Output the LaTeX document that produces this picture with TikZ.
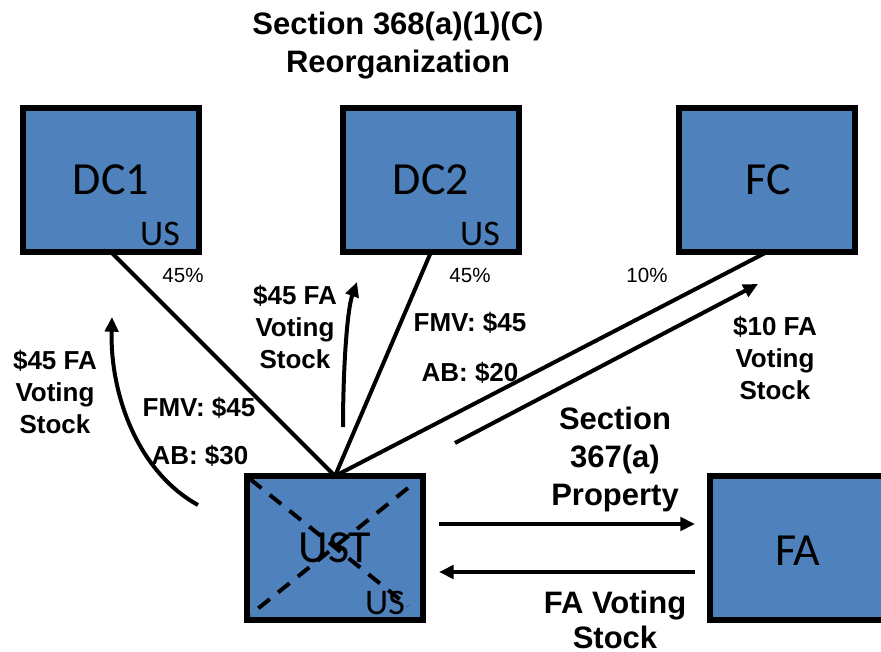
\documentclass[tikz,border=0pt]{standalone}
\usepackage{fontspec}
\setmainfont{Liberation Sans}
\newfontfamily\boxfont{Carlito}
\usetikzlibrary{arrows.meta}
\definecolor{boxblue}{HTML}{4F81BD}
\begin{document}
\begin{tikzpicture}[x=0.75pt,y=-0.75pt,
  corp/.style={draw=black,fill=boxblue,line width=4.5pt,minimum width=132pt,minimum height=108pt,inner sep=0pt,outer sep=0pt},
  corptext/.style={font=\boxfont\fontsize{34.5}{40}\selectfont,inner sep=0pt},
  ustext/.style={font=\boxfont\fontsize{27}{32}\selectfont,inner sep=0pt},
  lbl/.style={font=\bfseries\fontsize{19.5}{24}\selectfont,align=center,inner sep=0pt},
  biglbl/.style={font=\bfseries\fontsize{23.25}{28.5}\selectfont,align=center,inner sep=0pt},
  pct/.style={font=\fontsize{15.4}{18}\selectfont,inner sep=0pt},
  link/.style={line width=3pt},
  flow/.style={line width=3pt,-{Triangle[length=11pt,width=10pt]}},
  cross/.style={line width=3pt,dash pattern=on 11pt off 8pt}]
\useasboundingbox (0,0) rectangle (881,652);
\clip (0,0) rectangle (881,652);

% boxes
\node[corp] (DC1) at (111,180) {};
\node[corp] (DC2) at (431,180) {};
\node[corp] (FC) at (767,180) {};
\node[corp] (UST) at (335,548) {};
\node[corp] (FA) at (798,548) {};

\node[corptext] (tDC1) at (111,180) {DC1};
\node[ustext] (uDC1) at (160,234) {US};
\node[corptext] (tDC2) at (431,180) {DC2};
\node[ustext] (uDC2) at (480,234) {US};
\node[corptext] (tFC) at (768,180) {FC};
\node[corptext] (tUST) at (335,548) {UST};
\node[ustext] (uUST) at (385,603) {US};
\node[corptext] (tFA) at (798,551) {FA};

% crossed out UST
\draw[cross] (250,479) -- (408,606);
\draw[cross] (408,488) -- (250,615);

% ownership lines
\draw[link] (DC1.south) -- (UST.north);
\draw[link] (DC2.south) -- (UST.north);
\draw[link] (FC.south) -- (UST.north);

% free arrow ends
\coordinate (a1s) at (198,505);
\coordinate (a1e) at (112,317);
\coordinate (a2s) at (343,427);
\coordinate (a2e) at (357,282);
\coordinate (a3s) at (455,443);
\coordinate (a3e) at (758,284);
\coordinate (p1s) at (439,524);
\coordinate (p1e) at (695,524);
\coordinate (p2s) at (695,572);
\coordinate (p2e) at (439,572);

\draw[flow] (a1s) .. controls (135,470) and (110,390) .. (a1e);
\draw[flow] (a2s) .. controls (343,370) and (347,310) .. (a2e);
\draw[flow] (a3s) -- (a3e);
\draw[flow] (p1s) -- (p1e);
\draw[flow] (p2s) -- (p2e);

% labels
\node[biglbl] (title) at (398,46) {Section 368(a)(1)(C)\\Reorganization};
\node[pct] (pc1) at (183,275) {45\%};
\node[pct] (pc2) at (470,275) {45\%};
\node[pct] (pc3) at (647,275) {10\%};
\node[lbl] (l1) at (55,392) {\$45 FA\\Voting\\Stock};
\node[lbl] (l2) at (295,327) {\$45 FA\\Voting\\Stock};
\node[lbl] (l3) at (775,358) {\$10 FA\\Voting\\Stock};
\node[lbl] (fmv1) at (199,408) {FMV: \$45};
\node[lbl] (ab1) at (200,456) {AB: \$30};
\node[lbl] (fmv2) at (470,323) {FMV: \$45};
\node[lbl] (ab2) at (470,373) {AB: \$20};
\node[biglbl] (s367) at (615,459) {Section\\367(a)\\Property};
\node[biglbl,font=\bfseries\fontsize{23.25}{26.25}\selectfont] (fav) at (615,620) {FA Voting\\Stock};
\end{tikzpicture}
\end{document}
